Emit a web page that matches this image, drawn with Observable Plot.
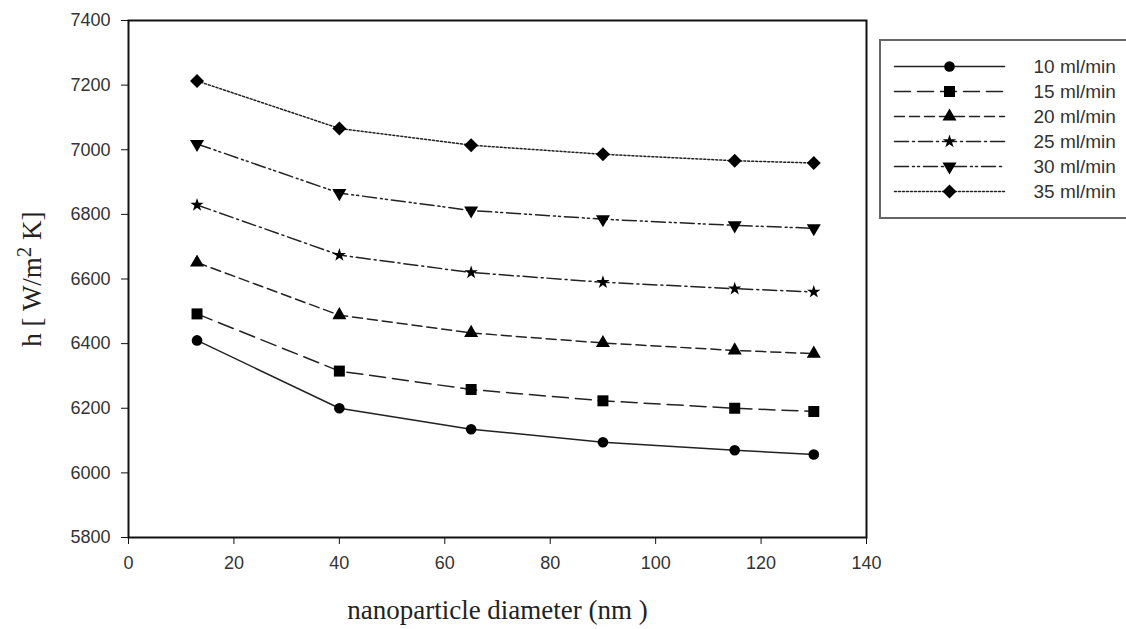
<!DOCTYPE html>
<html><head><meta charset="utf-8">
<script src="https://cdn.jsdelivr.net/npm/d3@7"></script>
<script src="https://cdn.jsdelivr.net/npm/@observablehq/plot@0.6"></script>
<style>
html,body{margin:0;padding:0;background:#fff;overflow:hidden;}
#wrap{position:relative;width:1126px;height:629px;overflow:hidden;}
#legend{position:absolute;left:879px;top:39px;width:245px;height:176px;
  border:2px solid #666;border-right:none;background:#fff;overflow:hidden;}
#legend svg{max-width:none !important;display:block;}
</style></head><body><div id="wrap"><div id="chart"></div><div id="legend"></div></div>
<script>
// ---- data ----
const diameters = [13, 40, 65, 90, 115, 130];
const seriesNames = ["10 ml/min", "15 ml/min", "20 ml/min", "25 ml/min", "30 ml/min", "35 ml/min"];
const h10 = [6410, 6200, 6135, 6095, 6070, 6057];
const h15 = [6492, 6315, 6258, 6223, 6200, 6190];
const h20 = [6651, 6488, 6433, 6402, 6379, 6369];
const h25 = [6829, 6674, 6620, 6590, 6570, 6560];
const h30 = [7018, 6866, 6812, 6785, 6766, 6757];
const h35 = [7213, 7066, 7014, 6986, 6966, 6959];
const xTicks = [0, 20, 40, 60, 80, 100, 120, 140];
const yTicks = [5800, 6000, 6200, 6400, 6600, 6800, 7000, 7200, 7400];
const xTitle = "nanoparticle diameter (nm )";
const yTitle = "h [ W/m2 K]";

// ---- styles ----
const seriesValues = [h10, h15, h20, h25, h30, h35];
const styles = [
  {symbol: "circle",   r: 5.3, rotate: 0,   dash: null},
  {symbol: "square",   r: 6.2, rotate: 0,   dash: "16,7"},
  {symbol: "triangle", r: 5.2, rotate: 0,   dash: "10,5"},
  {symbol: "star",     r: 4.2, rotate: 0,   dash: "14,4,2,4"},
  {symbol: "triangle", r: 5.2, rotate: 180, dash: "14,4,2,3,2,4"},
  {symbol: "diamond2", r: 6.3, rotate: 0,   dash: "2,2"}
];

const rows = [];
seriesNames.forEach((name, i) => {
  diameters.forEach((d, j) => rows.push({series: name, d, h: seriesValues[i][j]}));
});

const lineColor = "#222";
const marks = [];
seriesNames.forEach((name, i) => {
  const st = styles[i];
  const data = rows.filter(r => r.series === name);
  marks.push(Plot.line(data, {x: "d", y: "h", stroke: lineColor, strokeWidth: 1.5,
    strokeDasharray: st.dash || undefined}));
  marks.push(Plot.dot(data, {x: "d", y: "h", symbol: st.symbol, r: st.r, rotate: st.rotate,
    fill: "#000", stroke: "none"}));
});

const chart = Plot.plot({
  width: 1126, height: 629,
  marginLeft: 128, marginRight: 260, marginTop: 20, marginBottom: 92,
  style: {fontFamily: "'Liberation Sans', Arial, sans-serif", background: "#fff"},
  x: {domain: [0, 140]},
  y: {domain: [5800, 7400]},
  marks: [
    Plot.axisX({ticks: xTicks, tickSize: 7, tickPadding: 12, fontSize: 18, fill: "#333", stroke: "#111", label: null, tickFormat: d => String(d)}),
    Plot.axisY({ticks: yTicks, tickSize: 7, tickPadding: 11, fontSize: 18, fill: "#333", stroke: "#111", label: null, tickFormat: d => String(d)}),
    ...marks,
    Plot.frame({stroke: "#111", strokeWidth: 2}),
    Plot.text([xTitle], {frameAnchor: "bottom", dy: 73, lineAnchor: "middle", textAnchor: "middle",
      fontFamily: "'Liberation Serif', 'Times New Roman', serif", fontSize: 27, fill: "#222"}),
    Plot.text([yTitle], {frameAnchor: "left", dx: -96, rotate: -90, lineAnchor: "middle", textAnchor: "middle",
      fontFamily: "'Liberation Serif', 'Times New Roman', serif", fontSize: 27, fill: "#222"})
  ]
});
document.getElementById("chart").appendChild(chart);

// superscript in y title
d3.select(chart).selectAll("text").filter(function() { return this.textContent === yTitle; })
  .each(function() {
    const t = d3.select(this);
    t.text(null);
    t.append("tspan").text("h [ W/m");
    t.append("tspan").attr("dy", -10).attr("font-size", 21).text("2");
    t.append("tspan").attr("dy", 10).text(" K]");
  });

// ---- legend (box open on the right: it runs off the page) ----
const legendMarks = [];
seriesNames.forEach((name, i) => {
  const st = styles[i];
  legendMarks.push(Plot.line([[0, name], [1, name]], {x: d => d[0], y: d => d[1], stroke: lineColor,
    strokeWidth: 1.5, strokeDasharray: st.dash || undefined}));
  legendMarks.push(Plot.dot([[0.5, name]], {x: d => d[0], y: d => d[1], symbol: st.symbol, r: st.r,
    rotate: st.rotate, fill: "#000", stroke: "none"}));
});
legendMarks.push(Plot.text(seriesNames, {x: () => 1, y: d => d, dx: 29, textAnchor: "start",
  fontSize: 19, fill: "#333"}));
const legend = Plot.plot({
  width: 260, height: 176, margin: 0,
  style: {fontFamily: "'Liberation Sans', Arial, sans-serif", background: "#fff"},
  x: {domain: [0, 1], range: [13, 123], axis: null},
  y: {type: "point", domain: seriesNames, range: [23, 152], padding: 0, axis: null},
  marks: legendMarks
});
document.getElementById("legend").appendChild(legend);
</script></body></html>
